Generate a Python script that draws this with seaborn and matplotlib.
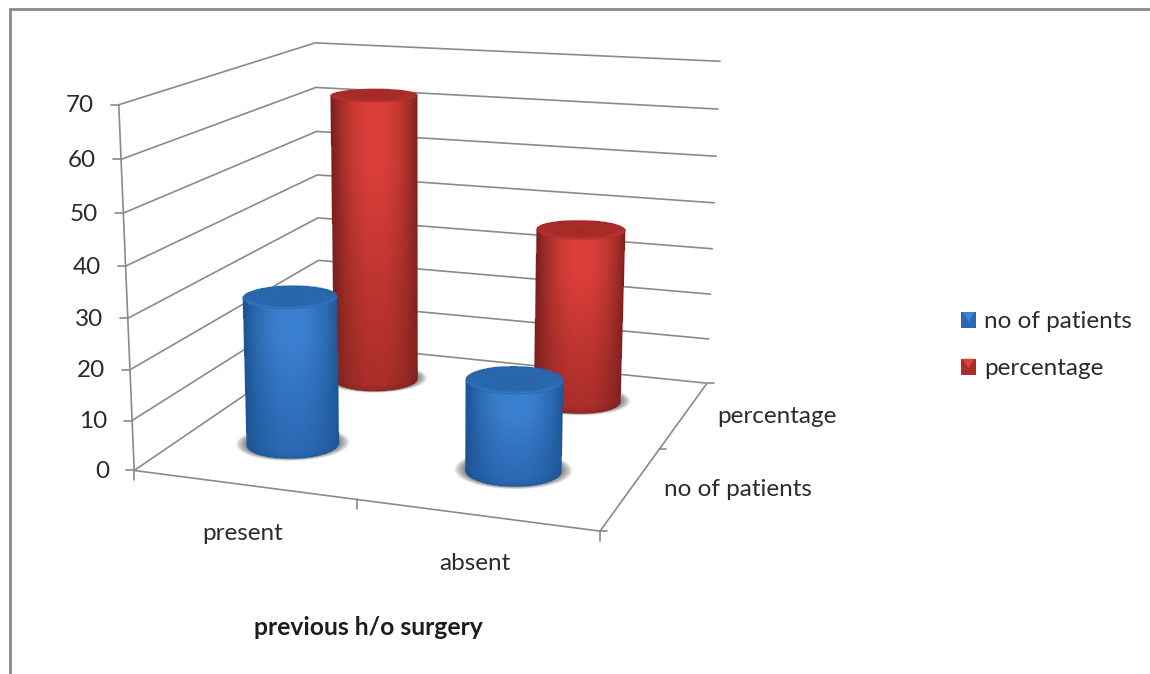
import numpy as np
import matplotlib
matplotlib.use("Agg")
import matplotlib.pyplot as plt
from matplotlib.legend_handler import HandlerBase
from matplotlib.patches import Patch, Polygon
import seaborn as sns

# Chart values
categories = ["present", "absent"]
series_names = ["no of patients", "percentage"]
patients = [30, 18]
percentage = [62.5, 37]
value_ticks = [0, 10, 20, 30, 40, 50, 60, 70]

sns.set_theme(style="white")
plt.rcParams["font.family"] = ["Lato", "DejaVu Sans"]

# Side-shading stops per series: edge, lower body, upper body, cap, rim highlight
shades = {
    "no of patients": sns.color_palette(["#1d5595", "#2a68b3", "#3b80d0", "#2a68ae", "#3a86d8"]),
    "percentage": sns.color_palette(["#7c211e", "#aa2e2a", "#dc3f3a", "#ac2c2a", "#d84240"]),
}
GRID = "#8a8a8a"
TEXT = "#2b2b2b"
FONT = 17.5

fig = plt.figure(figsize=(11.5, 6.74), dpi=100, facecolor="white")
ax = fig.add_axes([0, 0, 1, 1])
ax.set_xlim(0, 1150)
ax.set_ylim(674, 0)
ax.axis("off")

# Camera: a projective map from (category, series, value) to the canvas,
# fitted to the corners of the plot box.
box_world = np.array([[0, 0, 0], [2, 0, 0], [2, 2, 0], [0, 2, 0],
                      [0, 0, 70], [0, 2, 70], [2, 2, 70]], float)
box_canvas = np.array([[134, 468.5], [600, 533], [707, 381], [320, 346],
                       [119, 105], [315, 42], [720, 62]], float)


def fit_camera(world, canvas):
    rows = []
    for (x, y, z), (u, v) in zip(world, canvas):
        h = [x, y, z / 10, 1]
        rows.append(h + [0, 0, 0, 0] + [-u * c for c in h])
        rows.append([0, 0, 0, 0] + h + [-v * c for c in h])
    return np.linalg.svd(np.array(rows))[2][-1].reshape(3, 4)


CAM = fit_camera(box_world, box_canvas)


def project(x, y, z):
    x, y, z = np.broadcast_arrays(np.asarray(x, float), np.asarray(y, float), np.asarray(z, float))
    h = np.stack([x, y, z / 10, np.ones_like(x)], axis=-1) @ CAM.T
    return h[..., 0] / h[..., 2], h[..., 1] / h[..., 2]


def floor_jacobian_inverse():
    """Floor-plane vector per canvas pixel, taken at the middle of the floor."""
    d = 0.01
    x0, y0 = project(1, 1, 0)
    x1, y1 = project(1 + d, 1, 0)
    x2, y2 = project(1, 1 + d, 0)
    return np.linalg.inv(np.array([[x1 - x0, x2 - x0], [y1 - y0, y2 - y0]]) / d)


J_INV = floor_jacobian_inverse()


def floor_offset(du, dv):
    return J_INV @ np.array([du, dv])


def line3d(a, b, **kw):
    px, py = project([a[0], b[0]], [a[1], b[1]], [a[2], b[2]])
    ax.plot(px, py, color=GRID, solid_capstyle="butt", **kw)


# Outer frame of the chart area
ax.plot([9.5, 9.5, 1150], [674, 8.5, 8.5], color="#858585", lw=1.9, solid_joinstyle="miter", zorder=1)

# Wall gridlines and value axis
for v in value_ticks:
    px, py = project([0, 0, 2], [0, 2, 2], [v, v, v])
    ax.plot(px, py, color=GRID, lw=1.2, zorder=2)
    tx, ty = project(0, 0, v)
    ax.plot([tx - 8, tx], [ty, ty], color=GRID, lw=1.2, zorder=2)
    ax.text(tx - 25, ty + 1, str(v), ha="right", va="center", fontsize=FONT, color=TEXT)
line3d((0, 0, 0), (0, 0, 70), lw=1.2, zorder=2)

# Floor edges with their tick marks
line3d((0, 0, 0), (2, 0, 0), lw=1.2, zorder=2)
line3d((2, 0, 0), (2, 2, 0), lw=1.2, zorder=2)
for c in range(3):
    tx, ty = project(c, 0, 0)
    ax.plot([tx, tx], [ty, ty + 10], color=GRID, lw=1.2, zorder=2)
for s in range(3):
    tx, ty = project(2, s, 0)
    ax.plot([tx, tx + 7], [ty, ty], color=GRID, lw=1.2, zorder=2)

SEMI_A, SEMI_B = 44.5, 13.5
BASE_LIFT = -2.5
N_THETA, N_Z, N_S = 120, 60, 24


def blend(a, b, f):
    f = np.asarray(f)[..., None]
    return np.asarray(a) * (1 - f) + np.asarray(b) * f


def ring_points(cx, cy, z, angles, a=SEMI_A, b=SEMI_B):
    """Floor-plane circle that reads as a level ellipse on the canvas."""
    ex, ey = floor_offset(a, 0), floor_offset(0, b)
    wx = cx + ex[0] * np.cos(angles) + ey[0] * np.sin(angles)
    wy = cy + ex[1] * np.cos(angles) + ey[1] * np.sin(angles)
    return project(wx, wy, z)


def cylinder(cx, cy, value, stops, zorder):
    edge, low, high, cap, rim = stops
    lift = floor_offset(0, BASE_LIFT)
    cx, cy = cx + lift[0], cy + lift[1]

    # Soft contact shadow, spreading sideways around the base
    circle = np.linspace(0, 2 * np.pi, 241)
    for k in range(14, 0, -1):
        sx, sy = ring_points(cx, cy, 0, circle, SEMI_A + 0.75 * k, SEMI_B + 0.22 * k)
        ax.fill(sx, sy - 0.9, color="#303030", alpha=0.055, lw=0, zorder=zorder)

    # Body: angle 0 is the right silhouette, pi/2 the front, pi the left
    sweep = np.linspace(0, np.pi, N_THETA)
    levels = np.linspace(0, value, N_Z)
    tt, zz = np.meshgrid(sweep, levels)
    mx, my = ring_points(cx, cy, zz, tt)

    cu = 0.5 * (mx[:-1, :-1] + mx[1:, 1:])
    cv = 0.5 * (zz[:-1, :-1] + zz[1:, 1:]) / value
    mid = 0.5 * (mx.min(axis=1, keepdims=True) + mx.max(axis=1, keepdims=True))[:-1]
    half = 0.5 * (mx.max(axis=1, keepdims=True) - mx.min(axis=1, keepdims=True))[:-1]
    u = (cu - mid) / half
    body = blend(low, high, np.clip(cv / 0.8, 0, 1) ** 1.2)
    face = blend(edge, body, np.clip(1 - np.abs(u - 0.03) ** 2.2, 0, 1))
    foot = np.clip(cv * value * 5.0 / 7, 0, 1)
    face = blend(blend(face, edge, 0.4), face, foot)
    ax.pcolormesh(mx, my, face, shading="flat", antialiased=False, linewidth=0, zorder=zorder + 0.1)

    # Silhouette line softens the stepped mesh boundary
    ax.plot(mx[:, 0], my[:, 0], color=edge, lw=1, alpha=0.7, zorder=zorder + 0.15)
    ax.plot(mx[:, -1], my[:, -1], color=edge, lw=1, alpha=0.7, zorder=zorder + 0.15)
    ax.plot(mx[0], my[0], color=edge, lw=1, alpha=0.6, zorder=zorder + 0.15)

    # Cap: darker centre, bevelled rim lit along its front
    ss, aa = np.meshgrid(np.linspace(0, 1, N_S), np.linspace(0, 2 * np.pi, N_THETA))
    ex, ey = floor_offset(SEMI_A, 0), floor_offset(0, SEMI_B)
    qx, qy = project(cx + ss * (ex[0] * np.cos(aa) + ey[0] * np.sin(aa)),
                     cy + ss * (ex[1] * np.cos(aa) + ey[1] * np.sin(aa)), value)
    w = 0.5 * (np.sin(aa[:-1, :-1]) + np.sin(aa[1:, 1:]))
    s_mid = 0.5 * (ss[:-1, :-1] + ss[1:, 1:])
    ring = np.clip((s_mid - 0.74) / 0.26, 0, 1) ** 2
    top = blend(cap, blend(edge, cap, 0.35), 0.3 * (1 - s_mid))
    lit = blend(top, rim, np.clip(w, 0, 1) * ring)
    lit = blend(lit, edge, np.clip(-w, 0, 1) * ring * 0.5)
    ax.pcolormesh(qx, qy, lit, shading="flat", antialiased=False, linewidth=0, zorder=zorder + 0.2)
    ax.plot(qx[:, -1], qy[:, -1], color=cap, lw=0.9, alpha=0.7, zorder=zorder + 0.25)


# Rear row first so the front row overlaps it
rows = [(1.5, "percentage", percentage), (0.5, "no of patients", patients)]
for depth, (row_y, name, values) in enumerate(rows):
    for c, val in enumerate(values):
        cylinder(c + 0.5, row_y, val, shades[name], zorder=3 + depth + 0.4 * c)

# Category, series and axis labels
for c, name in enumerate(categories):
    tx, ty = project(c + 0.5, 0, 0)
    ax.text(tx - 1, ty + 48.5, name, ha="center", va="center", fontsize=FONT, color=TEXT)
for s, name in enumerate(series_names):
    tx, ty = project(2, s + 0.5, 0)
    ax.text(tx + 33, ty + 2, name, ha="left", va="center", fontsize=FONT, color=TEXT)
ax.text(368.5, 627.5, "previous h/o surgery", ha="center", va="center", fontsize=17.8, fontweight="bold", color="#1c1c1c")


class BevelSwatch(HandlerBase):
    """Square legend key with a lighter wedge along its upper edge."""

    def create_artists(self, legend, orig, xdescent, ydescent, width, height, fontsize, trans):
        base = Polygon([[0, 0], [width, 0], [width, height], [0, height]],
                       facecolor=orig.get_facecolor(), edgecolor="none", transform=trans)
        wedge = Polygon([[0.1 * width, height], [0.9 * width, height], [0.5 * width, 0.4 * height]],
                        facecolor=orig.get_edgecolor(), edgecolor="none", transform=trans)
        return [base, wedge]


handles = [Patch(facecolor=shades[n][1], edgecolor=shades[n][4], label=n) for n in series_names]
ax.legend(handles=handles, loc="upper left", bbox_to_anchor=(961 / 1150, 1 - 311 / 674),
          frameon=False, fontsize=FONT, labelcolor=TEXT, handler_map={Patch: BevelSwatch()},
          handlelength=0.62, handleheight=0.62, handletextpad=0.33, labelspacing=1.05,
          borderpad=0, borderaxespad=0)

fig.savefig("out.png", dpi=100, facecolor="white")
